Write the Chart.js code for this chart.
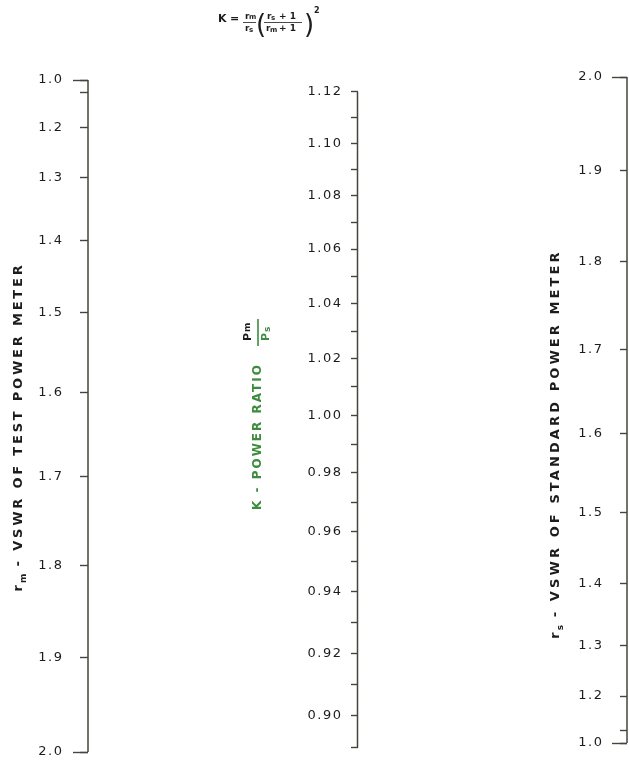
<!DOCTYPE html>
<html lang="en">
<head>
<meta charset="UTF-8">
<title>Power ratio nomograph</title>
<script src="https://cdn.jsdelivr.net/npm/chart.js"></script>
<style>
  html, body { margin: 0; padding: 0; background: #fff; }
</style>
</head>
<body>
<canvas id="nomo" width="629" height="762"></canvas>
<script>
// tick values and labels of the three scales
const rmTicks = [1.0, 1.1, 1.2, 1.3, 1.4, 1.5, 1.6, 1.7, 1.8, 1.9, 2.0];
const rmLabels = ['1.0', '', '1.2', '1.3', '1.4', '1.5', '1.6', '1.7', '1.8', '1.9', '2.0'];
const rsTicks = [1.0, 1.1, 1.2, 1.3, 1.4, 1.5, 1.6, 1.7, 1.8, 1.9, 2.0];
const rsLabels = ['1.0', '', '1.2', '1.3', '1.4', '1.5', '1.6', '1.7', '1.8', '1.9', '2.0'];
const kTicks = [0.89, 0.90, 0.91, 0.92, 0.93, 0.94, 0.95, 0.96, 0.97, 0.98, 0.99, 1.00,
                1.01, 1.02, 1.03, 1.04, 1.05, 1.06, 1.07, 1.08, 1.09, 1.10, 1.11, 1.12];
const kLabels = ['', '0.90', '', '0.92', '', '0.94', '', '0.96', '', '0.98', '', '1.00',
                 '', '1.02', '', '1.04', '', '1.06', '', '1.08', '', '1.10', '', '1.12'];
const endTicks = [1.0, 2.0];

const plotW = 629 - 88 - 2;              // chart area width in px
const axisAt = { rm: 0, k: 0.5, rs: 1 };  // x position of each scale line
const labelGap = { rm: 24.5, k: 15, rs: 23.5 }; // px from line to label right edge
const lineColor = '#45453c';
const green = '#3d8c3d';

// VSWR scale of the nomograph: position is linear in ln(r + 2 + 1/r)
const vswrFn = r => Math.log(r + 2 + 1 / r);

class VswrScale extends Chart.LinearScale {
    static id = 'vswr';
    static defaults = {};
    getPixelForValue(value) {
        const lo = vswrFn(this.min), hi = vswrFn(this.max);
        const s0 = this.options.spanStart ?? 0, s1 = this.options.spanEnd ?? 1;
        return this.getPixelForDecimal(s0 + (s1 - s0) * (vswrFn(value) - lo) / (hi - lo));
    }
}
Chart.register(VswrScale);

// one y scale placed at x = at; labels == null -> tick marks only, tickLen == 0 -> labels only
function vAxis(type, at, min, max, ticks, labels, tickLen, extra) {
    return Object.assign({
        type: type, axis: 'y', min: min, max: max, bounds: 'data',
        position: { x: at },
        afterBuildTicks: s => { s.ticks = ticks.map(v => ({ value: v })); },
        grid: { display: tickLen > 0, drawOnChartArea: false, drawTicks: true, tickLength: tickLen, color: lineColor, tickWidth: 1.4 },
        border: { display: false },
        ticks: {
            display: !!labels, autoSkip: false, padding: 0, color: '#1c1c1c',
            font: { family: 'DejaVu Sans', size: 13 },
            callback: (v, i) => labels ? labels[i] : ''
        }
    }, extra);
}

function axisLine(id, lo, hi) {
    return {
        data: [{ x: axisAt[id], y: lo }, { x: axisAt[id], y: hi }],
        yAxisID: id, xAxisID: 'x',
        borderColor: lineColor, borderWidth: 1.5, pointRadius: 0, clip: false
    };
}

// small helper to draw mixed text (subscripts) along a rotated baseline
function drawRich(ctx, parts, x, y, angle) {
    ctx.save();
    ctx.translate(x, y);
    ctx.rotate(angle);
    ctx.textBaseline = 'middle';
    ctx.textAlign = 'left';
    let w = 0;
    parts.forEach(p => { ctx.font = p.font; ctx.letterSpacing = p.sp || '0px'; w += ctx.measureText(p.t).width; });
    let cx = -w / 2;
    parts.forEach(p => {
        ctx.font = p.font; ctx.letterSpacing = p.sp || '0px';
        ctx.fillStyle = p.color || '#1c1c1c';
        ctx.fillText(p.t, cx, p.dy || 0);
        cx += ctx.measureText(p.t).width;
    });
    ctx.restore();
}

const titleFont = 'bold 13px "DejaVu Sans"';
const subFont = 'bold 9px "DejaVu Sans"';

const textPlugin = {
    id: 'nomoText',
    beforeDraw(chart) { chart.ctx.letterSpacing = '1.5px'; },
    afterDraw(chart) {
        const ctx = chart.ctx;
        ctx.letterSpacing = '0px';
        const up = -Math.PI / 2;

        // left scale title
        drawRich(ctx, [
            { t: 'r', font: titleFont, sp: '2px' },
            { t: 'm', font: subFont, dy: 5 },
            { t: ' - VSWR OF TEST POWER METER', font: titleFont, sp: '2.8px' }
        ], 19, 427, up);

        // right scale title
        drawRich(ctx, [
            { t: 'r', font: titleFont, sp: '2px' },
            { t: 's', font: subFont, dy: 5 },
            { t: ' - VSWR OF STANDARD POWER METER', font: titleFont, sp: '3.1px' }
        ], 556, 444, up);

        // middle title with Pm / Ps fraction
        ctx.save();
        ctx.translate(258, 510);
        ctx.rotate(up);
        ctx.textBaseline = 'middle';
        ctx.font = 'bold 12px "DejaVu Sans"';
        ctx.letterSpacing = '2px';
        ctx.fillStyle = green;
        ctx.fillText('K - POWER RATIO', 0, 0);
        const fx = ctx.measureText('K - POWER RATIO').width + 17;
        ctx.letterSpacing = '0px';
        ctx.strokeStyle = green;
        ctx.lineWidth = 1.6;
        ctx.beginPath();
        ctx.moveTo(fx, 0);
        ctx.lineTo(fx + 27, 0);
        ctx.stroke();
        ctx.font = 'bold 11px "DejaVu Sans"';
        ctx.fillStyle = '#1c1c1c';
        ctx.fillText('P', fx + 5, -10);
        ctx.font = subFont;
        ctx.fillText('m', fx + 14, -10);
        ctx.fillStyle = green;
        ctx.font = 'bold 11px "DejaVu Sans"';
        ctx.fillText('P', fx + 5, 8);
        ctx.font = subFont;
        ctx.fillText('s', fx + 14, 10);
        ctx.restore();

        // formula at the top
        ctx.save();
        ctx.fillStyle = '#1c1c1c';
        ctx.strokeStyle = '#1c1c1c';
        ctx.textBaseline = 'alphabetic';
        ctx.textAlign = 'left';
        ctx.font = 'bold 11px "DejaVu Sans"';
        ctx.fillText('K', 218, 22);
        ctx.fillText('=', 230, 22);
        const f = 'bold 9px "DejaVu Sans"', fs = 'bold 7px "DejaVu Sans"';
        ctx.font = f; ctx.fillText('r', 245, 19);
        ctx.font = fs; ctx.fillText('m', 249, 19);
        ctx.font = f; ctx.fillText('r', 245, 31);
        ctx.font = fs; ctx.fillText('s', 249, 32);
        ctx.lineWidth = 0.8;
        ctx.beginPath(); ctx.moveTo(243, 22.5); ctx.lineTo(256, 22.5); ctx.stroke();
        ctx.font = '26px "DejaVu Sans"';
        ctx.fillText('(', 256, 33);
        ctx.fillText(')', 304, 33);
        ctx.font = f; ctx.fillText('r', 267, 19);
        ctx.font = fs; ctx.fillText('s', 271, 20);
        ctx.font = f; ctx.fillText('+ 1', 279, 19);
        ctx.font = f; ctx.fillText('r', 266, 31);
        ctx.font = fs; ctx.fillText('m', 270, 32);
        ctx.font = f; ctx.fillText('+ 1', 279, 31);
        ctx.beginPath(); ctx.moveTo(264, 22.5); ctx.lineTo(302, 22.5); ctx.stroke();
        ctx.font = 'bold 8px "DejaVu Sans"';
        ctx.fillText('2', 314, 13);
        ctx.restore();
    }
};

const rmOpt = { reverse: true, spanStart: 3 / 675 };
const rsOpt = { spanStart: 9 / 675 };
const kMin = 0.8887, kMax = 1.1259;

new Chart(document.getElementById('nomo'), {
    type: 'line',
    data: {
        datasets: [
            axisLine('rm', 1.0, 2.0),
            axisLine('k', 0.89, 1.12),
            axisLine('rs', 1.0, 2.0)
        ]
    },
    options: {
        responsive: false,
        animation: false,
        events: [],
        layout: { padding: { left: 88, right: 2, top: 77, bottom: 10 } },
        plugins: { legend: { display: false }, tooltip: { enabled: false } },
        scales: {
            x: { type: 'linear', min: 0, max: 1, display: false },
            rm: vAxis('vswr', axisAt.rm, 1.0, 2.0, rmTicks, null, 8, rmOpt),
            rmEnd: vAxis('vswr', axisAt.rm, 1.0, 2.0, endTicks, null, 15, rmOpt),
            rmLab: vAxis('vswr', axisAt.rm - labelGap.rm / plotW, 1.0, 2.0, rmTicks, rmLabels, 0, rmOpt),
            k: vAxis('logarithmic', axisAt.k, kMin, kMax, kTicks, null, 7),
            kLab: vAxis('logarithmic', axisAt.k - labelGap.k / plotW, kMin, kMax, kTicks, kLabels, 0),
            rs: vAxis('vswr', axisAt.rs, 1.0, 2.0, rsTicks, null, 7, rsOpt),
            rsEnd: vAxis('vswr', axisAt.rs, 1.0, 2.0, endTicks, null, 15, rsOpt),
            rsLab: vAxis('vswr', axisAt.rs - labelGap.rs / plotW, 1.0, 2.0, rsTicks, rsLabels, 0, rsOpt)
        }
    },
    plugins: [textPlugin]
});
</script>
</body>
</html>
